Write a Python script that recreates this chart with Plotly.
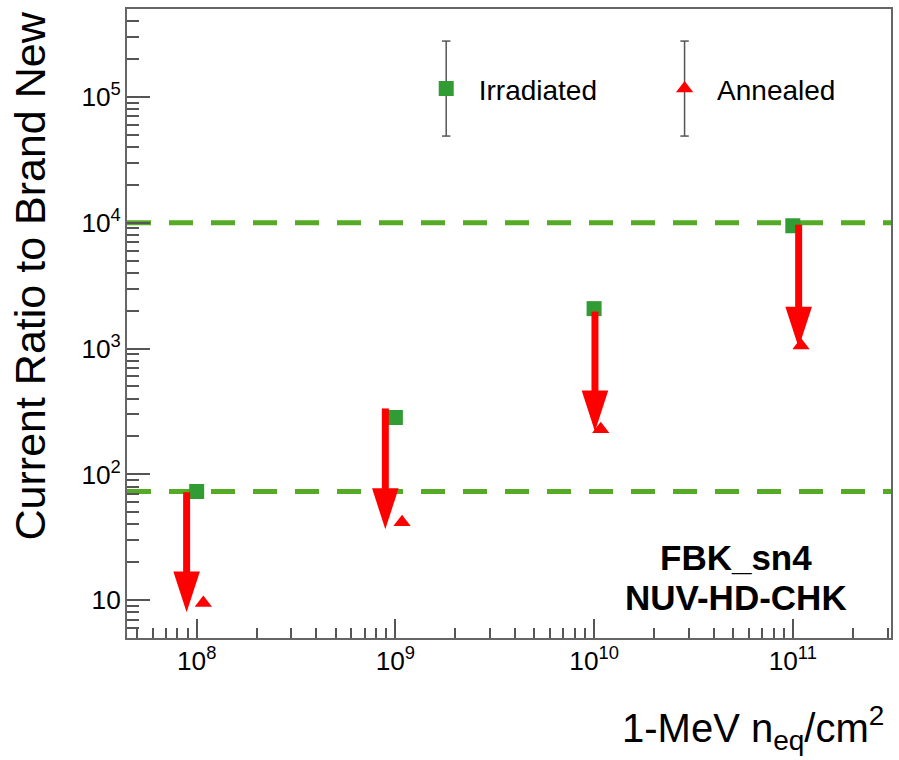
import math
import plotly.graph_objects as go

# ---------------- data ----------------
fluence = [1e8, 1e9, 1e10, 1e11]
irradiated = [73, 283, 2075, 9460]

annealed_fluence = [1.08e8, 1.08e9, 1.08e10, 1.1e11]
annealed = [9.5, 41.6, 228, 1057]

arrow_fluence = [8.9e7, 8.9e8, 1.01e10, 1.07e11]
arrow_start = [72, 334, 1967, 9640]
arrow_end = [8.0, 36.6, 219, 1018]

ref_levels = [1e4, 73]

x_range = [4.46e7, 3.12e11]
y_range = [5, 5e5]

FONT = "Liberation Sans, Arial, Helvetica, sans-serif"
GREEN = "#319b34"
RED = "#ff0000"
LINE_GREEN = "#55ab26"
AX = "#555555"

fig = go.Figure()

fig.add_trace(go.Scatter(
    x=fluence, y=irradiated, mode="markers", name="Irradiated", legend="legend",
    marker=dict(symbol="square", size=15, color=GREEN, line=dict(width=0)),
))
fig.add_trace(go.Scatter(
    x=annealed_fluence, y=annealed, mode="markers", name="Annealed", legend="legend2",
    marker=dict(symbol="triangle-up", size=15, color=RED, line=dict(width=0)),
))

for xa, y0, y1 in zip(arrow_fluence, arrow_start, arrow_end):
    fig.add_trace(go.Scatter(
        x=[xa, xa], y=[y0, y1], mode="lines+markers", showlegend=False,
        line=dict(color=RED, width=7),
        marker=dict(symbol="arrow", size=[0, 43], angleref="previous",
                    color=RED, opacity=1, line=dict(width=0)),
        hoverinfo="skip",
    ))

for lvl in ref_levels:
    fig.add_hline(y=lvl, line=dict(color=LINE_GREEN, width=5, dash="24px,18px"),
                  layer="below")

# legend error bars (ROOT style)
leg_x = [0.4178, 0.7298]
for lx in leg_x:
    fig.add_shape(type="line", xref="paper", yref="paper", x0=lx, x1=lx,
                  y0=0.798, y1=0.949, line=dict(color=AX, width=1.5))
    for yy in (0.798, 0.949):
        fig.add_shape(type="line", xref="paper", yref="paper",
                      x0=lx - 0.0055, x1=lx + 0.0055, y0=yy, y1=yy,
                      line=dict(color=AX, width=1.5))

axis_common = dict(
    type="log", dtick=1, exponentformat="power",
    ticks="inside", tickcolor=AX, tickwidth=1.5,
    showline=True, linecolor="#666666", linewidth=2, mirror=True,
    showgrid=False, zeroline=False,
    tickfont=dict(family=FONT, size=21, color="black"),
)

legend_common = dict(
    orientation="h", y=0.873, xanchor="left", yanchor="middle",
    font=dict(family=FONT, size=28, color="black"),
    itemwidth=55, bgcolor="rgba(0,0,0,0)",
)

fig.update_layout(
    width=899, height=760,
    margin=dict(l=127, r=6, t=9, b=122),
    paper_bgcolor="white", plot_bgcolor="white",
    font=dict(family=FONT, color="black"),
    xaxis=dict(**axis_common, range=[math.log10(x_range[0]), math.log10(x_range[1])],
               ticklen=19,
               minor=dict(ticks="inside", ticklen=10, dtick="D1", tickcolor=AX, tickwidth=1.5)),
    yaxis=dict(**axis_common, range=[math.log10(y_range[0]), math.log10(y_range[1])],
               ticklen=23,
               minor=dict(ticks="inside", ticklen=12, dtick="D1", tickcolor=AX, tickwidth=1.5)),
    legend=dict(**legend_common, x=0.3753),
    legend2=dict(**legend_common, x=0.6873),
    showlegend=True,
)

fig.add_annotation(
    text="Current Ratio to Brand New", textangle=-90,
    xref="paper", yref="paper", x=-0.127, y=1.0, xanchor="center", yanchor="top",
    showarrow=False, font=dict(family=FONT, size=43, color="black"),
)
fig.add_annotation(
    text="1-MeV n<sub>eq</sub>/cm<sup>2</sup>",
    xref="paper", yref="paper", x=0.993, y=-0.143, xanchor="right", yanchor="middle",
    showarrow=False, font=dict(family=FONT, size=40, color="black"),
)
fig.add_annotation(
    text="<b>FBK_sn4</b>",
    xref="paper", yref="paper", x=0.797, y=(638 - 557) / 629, xanchor="center", yanchor="middle",
    showarrow=False, font=dict(family=FONT, size=35, color="black"),
)
fig.add_annotation(
    text="<b>NUV-HD-CHK</b>",
    xref="paper", yref="paper", x=0.797, y=(638 - 597) / 629, xanchor="center", yanchor="middle",
    showarrow=False, font=dict(family=FONT, size=35, color="black"),
)

fig.write_html("out.html")
